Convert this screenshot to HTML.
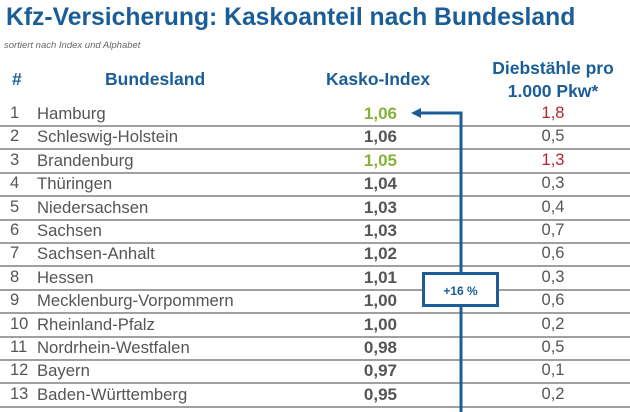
<!DOCTYPE html>
<html><head><meta charset="utf-8"><style>
body{margin:0;width:630px;height:412px;background:#fff;overflow:hidden;font-family:"Liberation Sans",sans-serif;position:relative}
.a{position:absolute;white-space:nowrap}
.h{color:#1b5e97;font-weight:bold;font-size:17.5px}
.t{font-size:16.5px;color:#555}
.line{position:absolute;left:0;width:630px;height:2px;background:#a0a0a0}
</style></head><body>
<div class="a" style="left:6px;top:4px;font-size:24.7px;font-weight:bold;color:#1b5e97">Kfz-Versicherung: Kaskoanteil nach Bundesland</div>
<div class="a" style="left:4px;top:40px;font-size:9.5px;font-style:italic;color:#666">sortiert nach Index und Alphabet</div>
<div class="a h" style="left:12px;top:69px">#</div>
<div class="a h" style="left:105px;top:69px">Bundesland</div>
<div class="a h" style="left:326px;top:69px">Kasko-Index</div>
<div class="a h" style="left:490px;top:57px;width:126px;text-align:center;line-height:23px">Diebstähle pro<br>1.000 Pkw*</div>
<div id="rows"></div>
<svg class="a" style="left:0;top:0" width="630" height="412">
<path d="M461 412 V113 H418" fill="none" stroke="#1b5e97" stroke-width="3"/>
<polygon points="411,113 421,108 421,118" fill="#1b5e97"/>
<rect x="423.5" y="273.5" width="74" height="32" fill="#fff" stroke="#1b5e97" stroke-width="3"/>
<text x="460.5" y="295" text-anchor="middle" font-family="Liberation Sans" font-weight="bold" font-size="12" fill="#1b5e97">+16 %</text>
</svg>
<script>
const states=["Hamburg","Schleswig-Holstein","Brandenburg","Thüringen","Niedersachsen","Sachsen","Sachsen-Anhalt","Hessen","Mecklenburg-Vorpommern","Rheinland-Pfalz","Nordrhein-Westfalen","Bayern","Baden-Württemberg"];
const kasko=["1,06","1,06","1,05","1,04","1,03","1,03","1,02","1,01","1,00","1,00","0,98","0,97","0,95"];
const thefts=["1,8","0,5","1,3","0,3","0,4","0,7","0,6","0,3","0,6","0,2","0,5","0,1","0,2"];
const greenIdx=[0,2];
const redIdx=[0,2];
const c=document.getElementById('rows');
states.forEach((s,i)=>{
  const y=103+23.4*i;
  const r=document.createElement('div');
  
  
  r.innerHTML=
  '<div class="a t" style="left:10px;top:'+(y+1)+'px">'+(i+1)+'</div>'+
  '<div class="a t" style="left:37px;top:'+(y+1)+'px;font-size:16.7px">'+s+'</div>'+
  '<div class="a t" style="left:330px;width:67px;text-align:right;top:'+(y+1)+'px;font-weight:bold;font-size:17px;color:'+(greenIdx.includes(i)?'#86b23a':'#555')+'">'+kasko[i]+'</div>'+
  '<div class="a t" style="left:520px;width:66px;text-align:center;top:'+(y+1)+'px;color:'+(redIdx.includes(i)?'#b5242e':'#555')+'">'+thefts[i]+'</div>'+
  '<div class="line" style="top:'+(y+22)+'px"></div>';
  c.appendChild(r);
});
</script>
</body></html>
